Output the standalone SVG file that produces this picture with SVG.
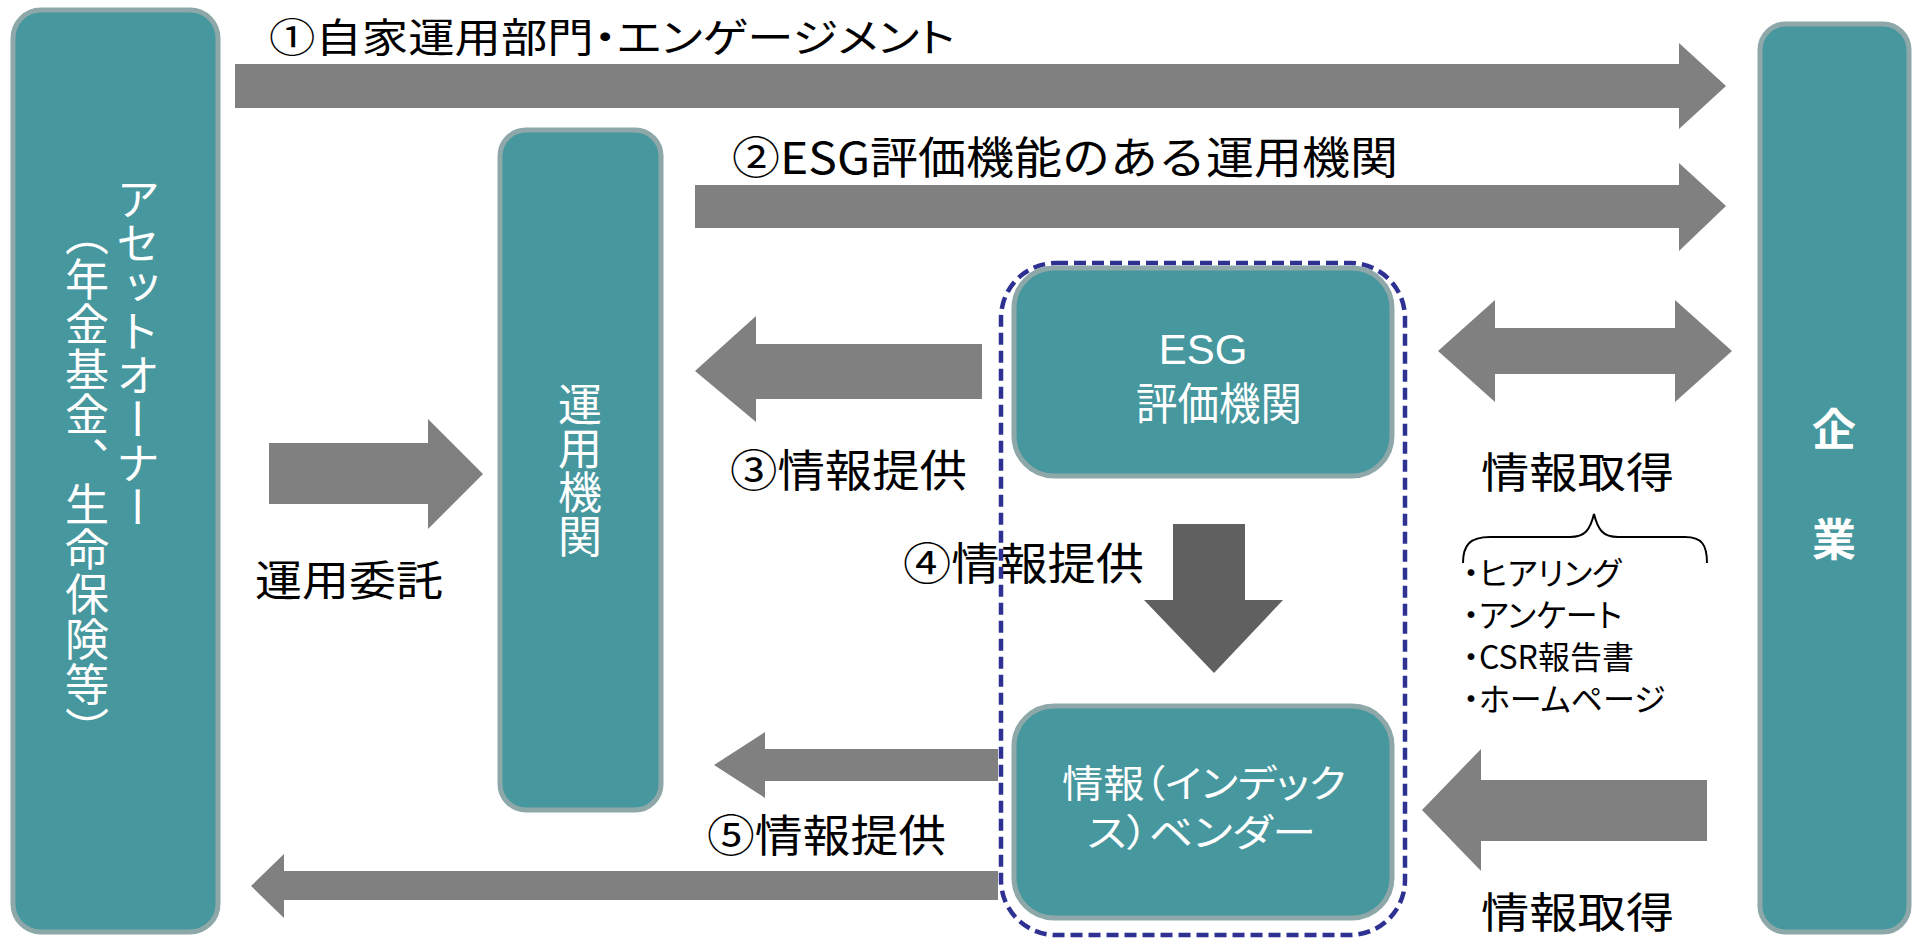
<svg xmlns="http://www.w3.org/2000/svg" width="1919" height="939" viewBox="0 0 1919 939">
<style>
.node{fill:#46979e;stroke:#8ea8a9;stroke-width:5}
.arr{fill:#808080}
.arr2{fill:#606060}
.lbl{font-family:"Noto Sans CJK JP",sans-serif;fill:#000}
.wt{font-family:"Noto Sans CJK JP",sans-serif;fill:#fff}
.vt{writing-mode:vertical-rl}
.palt{font-feature-settings:"palt"}
</style>
<rect width="1919" height="939" fill="#fff"/>
<g id="connectors">
<polygon class="arr" points="235,64 1679,64 1679,43 1726,86 1679,129 1679,108 235,108"/>
<polygon class="arr" points="695,185 1679,185 1679,163 1726,206 1679,251 1679,228 695,228"/>
<polygon class="arr" points="1438,351 1495,300 1495,328 1675,328 1675,300 1732,351 1675,402 1675,374 1495,374 1495,402"/>
<polygon class="arr" points="695,371 756,316 756,344 982,344 982,399 756,399 756,422"/>
<polygon class="arr2" points="1173,524 1245,524 1245,600 1283,600 1214,673 1144,600 1173,600"/>
<polygon class="arr" points="714,765 765,732 765,749 998,749 998,781 765,781 765,798"/>
<polygon class="arr" points="251,886 284,854 284,871 998,871 998,900 284,900 284,918"/>
<polygon class="arr" points="269,443 428,443 428,419 483,474 428,529 428,504 269,504"/>
<polygon class="arr" points="1422,810 1481,749 1481,780 1707,780 1707,841 1481,841 1481,871"/>
<path d="M1463,563 C1463,545 1470,537 1490,537 L1570,537 C1585,537 1590,530 1594,514 C1598,530 1603,537 1618,537 L1685,537 C1702,537 1707,545 1707,563" fill="none" stroke="#000" stroke-width="2"/>
</g>
<g id="labels">
<text class="lbl palt" x="269" y="52" font-size="40" textLength="686" lengthAdjust="spacingAndGlyphs">①自家運用部門・エンゲージメント</text>
<text class="lbl" x="732" y="174" font-size="44" textLength="666" lengthAdjust="spacingAndGlyphs">②ESG評価機能のある運用機関</text>
<text class="lbl" x="730" y="487" font-size="44" textLength="237" lengthAdjust="spacingAndGlyphs">③情報提供</text>
<text class="lbl" x="903" y="580" font-size="44" textLength="241" lengthAdjust="spacingAndGlyphs">④情報提供</text>
<text class="lbl" x="707" y="852" font-size="44" textLength="239" lengthAdjust="spacingAndGlyphs">⑤情報提供</text>
<text class="lbl" x="255" y="596" font-size="42" textLength="188" lengthAdjust="spacingAndGlyphs">運用委託</text>
<text class="lbl" x="1481" y="488" font-size="42" textLength="193" lengthAdjust="spacingAndGlyphs">情報取得</text>
<text class="lbl" x="1481" y="928" font-size="42" textLength="193" lengthAdjust="spacingAndGlyphs">情報取得</text>
<text class="lbl palt" font-size="32">
<tspan x="1463" y="585">・ヒアリング</tspan>
<tspan x="1463" y="627">・アンケート</tspan>
<tspan x="1463" y="669">・CSR報告書</tspan>
<tspan x="1463" y="711">・ホームページ</tspan>
</text>
</g>
<g id="asset-owner">
<rect class="node" x="13" y="10" width="205" height="922" rx="28"/>
<text class="wt vt" x="138" y="177" font-size="44">アセットオーナー</text>
<text class="wt vt" x="87" y="212" font-size="44" letter-spacing="1">（年金基金、生命保険等）</text>
</g>
<g id="asset-manager">
<rect class="node" x="500" y="130" width="161" height="680" rx="26"/>
<text class="wt vt" x="580" y="382" font-size="44">運用機関</text>
</g>
<g id="vendor-group">
<rect x="1001" y="263" width="404" height="672" rx="55" fill="none" stroke="#2e3192" stroke-width="4.5" stroke-dasharray="12,6"/>
</g>
<g id="esg-rater">
<rect class="node" x="1014" y="268" width="378" height="208" rx="40"/>
<text class="wt" x="1203" y="364" font-size="42" text-anchor="middle" style="font-family:'Liberation Sans',sans-serif">ESG</text>
<text class="wt" x="1219" y="420" font-size="44" text-anchor="middle" textLength="166" lengthAdjust="spacingAndGlyphs">評価機関</text>
</g>
<g id="info-vendor">
<rect class="node" x="1014" y="706" width="378" height="212" rx="40"/>
<text class="wt palt" x="1062" y="797" font-size="38" textLength="284" lengthAdjust="spacingAndGlyphs">情報（インデック</text>
<text class="wt palt" x="1087" y="846" font-size="38" textLength="229" lengthAdjust="spacingAndGlyphs">ス）ベンダー</text>
</g>
<g id="company">
<rect class="node" x="1760" y="24" width="149" height="908" rx="26"/>
<text class="wt" x="1834" y="446" font-size="44" text-anchor="middle" font-weight="bold">企</text>
<text class="wt" x="1834" y="556" font-size="44" text-anchor="middle" font-weight="bold">業</text>
</g>
</svg>
